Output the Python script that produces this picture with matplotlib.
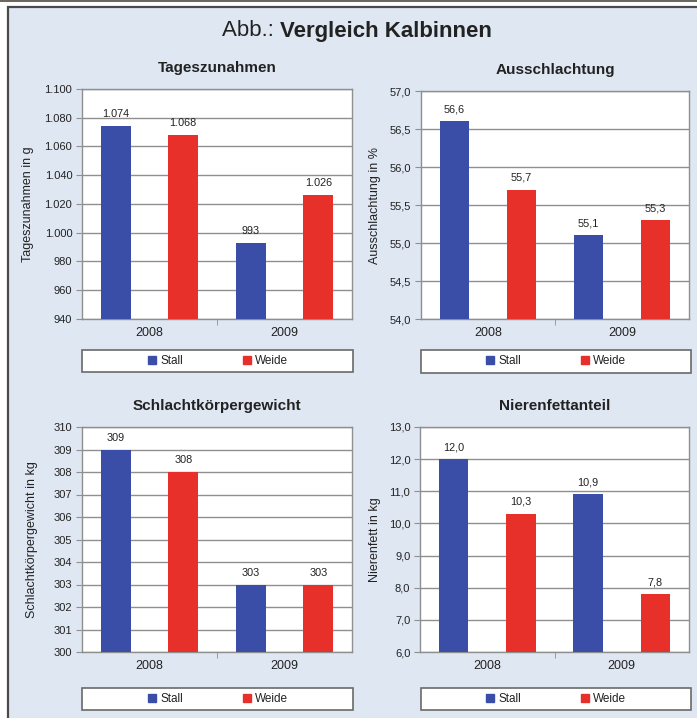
import matplotlib.pyplot as plt
from matplotlib.patches import Rectangle
from matplotlib.lines import Line2D
from matplotlib.ticker import FixedLocator

plt.rcParams['font.family'] = ['Liberation Sans', 'DejaVu Sans']

years = ['2008', '2009']
series = ['Stall', 'Weide']
bar_colors = ['#3a4ea8', '#e8302a']

# Tageszunahmen (g)
tz_stall = [1074, 993]
tz_weide = [1068, 1026]
# Ausschlachtung (%)
aus_stall = [56.6, 55.1]
aus_weide = [55.7, 55.3]
# Schlachtkörpergewicht (kg)
skg_stall = [309, 303]
skg_weide = [308, 303]
# Nierenfett (kg)
nf_stall = [12.0, 10.9]
nf_weide = [10.3, 7.8]

W, H = 697, 718
BG = '#dfe7f3'
TXT = '#222222'
GRID = '#8f8f8f'


def de_num(v, dec):
    s = f'{v:,.{dec}f}'
    return s.replace(',', '#').replace('.', ',').replace('#', '.')


def px_rect(left, top, right, bottom):
    return [left / W, 1 - bottom / H, (right - left) / W, (bottom - top) / H]


panels = [
    dict(title='Tageszunahmen', ylabel='Tageszunahmen in g',
         stall=tz_stall, weide=tz_weide, ylim=(940, 1100), step=20, dec=0,
         box=(82, 89, 352, 319), legend=(82, 350, 353, 372), ylx=-0.178),
    dict(title='Ausschlachtung', ylabel='Ausschlachtung in %',
         stall=aus_stall, weide=aus_weide, ylim=(54.0, 57.0), step=0.5, dec=1,
         box=(421, 91, 689, 319), legend=(421, 350, 691, 373), ylx=-0.149),
    dict(title='Schlachtkörpergewicht', ylabel='Schlachtkörpergewicht in kg',
         stall=skg_stall, weide=skg_weide, ylim=(300, 310), step=1, dec=0,
         box=(82, 427, 352, 652), legend=(82, 688, 353, 710), ylx=-0.163),
    dict(title='Nierenfettanteil', ylabel='Nierenfett in kg',
         stall=nf_stall, weide=nf_weide, ylim=(6.0, 13.0), step=1, dec=1,
         box=(420, 427, 689, 652), legend=(421, 688, 691, 710), ylx=-0.145),
]

fig = plt.figure(figsize=(W / 100, H / 100), dpi=100)

# strip of the table above and the light-blue frame
fig.add_artist(Rectangle((0, 1 - 2 / H), 1, 2 / H, transform=fig.transFigure,
                         facecolor='#6d675f', edgecolor='none', zorder=-20))
fig.add_artist(Rectangle((8 / W, -0.01), 1, 1 - 7 / H + 0.01,
                         transform=fig.transFigure, facecolor=BG,
                         edgecolor='#4a4a4a', linewidth=1.6, zorder=-10))

fig.text(280 / W, 1 - 31 / H, 'Abb.: ', ha='right', va='center',
         fontsize=16, color=TXT)
fig.text(280 / W, 1 - 31 / H, 'Vergleich Kalbinnen', ha='left',
         va='center', fontsize=16, fontweight='bold', color=TXT)

x = [0, 1]
off, bw = 0.25, 0.22
for p in panels:
    ax = fig.add_axes(px_rect(*p['box']))
    ax.set_facecolor('white')
    ax.set_xlim(-0.5, 1.5)
    ax.set_ylim(*p['ylim'])
    lo, hi = p['ylim']
    n = int(round((hi - lo) / p['step']))
    yt = [lo + i * p['step'] for i in range(n + 1)]
    ax.set_yticks(yt)
    ax.set_yticklabels([de_num(v, p['dec']) for v in yt])
    ax.yaxis.grid(True, color=GRID, linewidth=1.0)
    ax.set_axisbelow(True)

    for k, (vals, c) in enumerate(zip([p['stall'], p['weide']], bar_colors)):
        xs = [xi + (2 * k - 1) * off for xi in x]
        bars = ax.bar(xs, vals, width=bw, color=c, zorder=3)
        ax.bar_label(bars, labels=[de_num(v, p['dec']) for v in vals],
                     padding=5, fontsize=7.8, color=TXT)

    ax.set_xticks(x)
    ax.set_xticklabels(years, fontsize=9, color=TXT)
    ax.xaxis.set_minor_locator(FixedLocator([0.5]))
    ax.tick_params(axis='x', which='major', length=0, pad=6)
    ax.tick_params(axis='x', which='minor', length=4, color=GRID)
    ax.tick_params(axis='y', length=4, color=GRID, labelsize=8,
                   labelcolor=TXT, pad=3)
    for s in ax.spines.values():
        s.set_color(GRID)
        s.set_linewidth(1.0)

    ax.set_ylabel(p['ylabel'], fontsize=9, color=TXT)
    ax.yaxis.set_label_coords(p['ylx'], 0.5)
    ax.set_title(p['title'], fontsize=11, fontweight='bold', color=TXT,
                 pad=12)

    # legend box under each chart
    l, t, r, b = p['legend']
    fig.add_artist(Rectangle((l / W, 1 - b / H), (r - l) / W, (b - t) / H,
                             transform=fig.transFigure, facecolor='white',
                             edgecolor='#6a6a6a', linewidth=1.2))
    handles = [Line2D([], [], marker='s', linestyle='', color=c,
                      markersize=6) for c in bar_colors]
    fig.legend(handles, series, loc='center', ncol=2, frameon=False,
               bbox_to_anchor=((l + r) / 2 / W, 1 - (t + b) / 2 / H),
               fontsize=8.5, handlelength=0.8, handletextpad=0.3,
               columnspacing=5.0, labelcolor=TXT)

fig.savefig('out.png', dpi=100)
